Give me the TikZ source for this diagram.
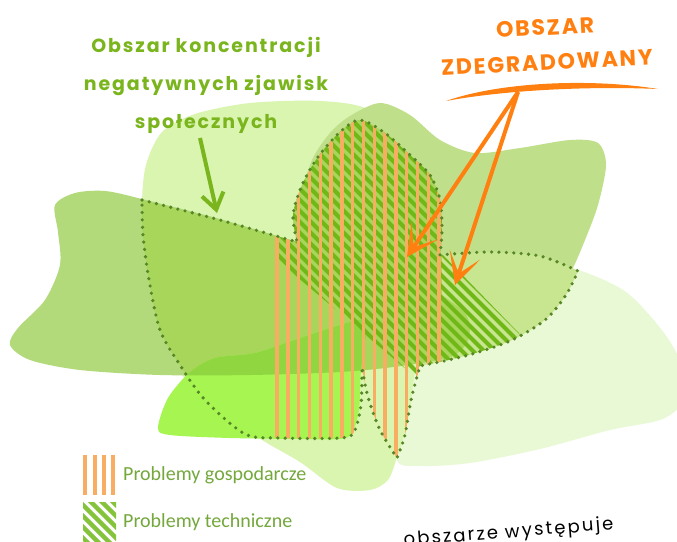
\documentclass[tikz,border=0pt]{standalone}
\usepackage{fontspec}
\usepackage{tikz}
\usetikzlibrary{arrows.meta,positioning}
\setmainfont{Carlito}
\newfontfamily\handfont[LetterSpace=10]{Poppins}
\newfontfamily\capsfont[LetterSpace=8]{Poppins}
\newfontfamily\notefont[LetterSpace=12]{Poppins}
\definecolor{PaleGreen}{RGB}{217,245,176}
\definecolor{MistGreen}{RGB}{234,249,213}
\definecolor{MidGreen}{RGB}{192,223,138}
\definecolor{LightMid}{RGB}{200,230,143}
\definecolor{BandGreen}{RGB}{178,217,122}
\definecolor{DeepBand}{RGB}{168,214,90}
\definecolor{BrightGreen}{RGB}{166,245,80}
\definecolor{MixGreen}{RGB}{143,214,64}
\definecolor{StripeGreen}{RGB}{112,184,24}
\definecolor{StripeOrange}{RGB}{249,173,99}
\definecolor{DotGreen}{RGB}{86,134,38}
\definecolor{InkGreen}{RGB}{122,181,29}
\definecolor{LegendGreen}{RGB}{116,168,60}
\definecolor{InkOrange}{RGB}{255,128,16}
\tikzset{
  orangestripe/.style={StripeOrange,line width=3.4pt},
  greenstripe/.style={StripeGreen,line width=3.9pt},
  legendstripe/.style={StripeGreen!85!white,line width=4.5pt},
  dotline/.style={DotGreen,line width=3.6pt,line cap=round,dash pattern=on 0pt off 7.4pt},
  handlabel/.style={InkGreen,font=\handfont\bfseries\fontsize{19}{38}\selectfont,align=center},
  capslabel/.style={InkOrange,font=\capsfont\bfseries\fontsize{22}{35}\selectfont,align=center},
  legendlabel/.style={LegendGreen,font=\fontsize{20}{24}\selectfont,anchor=west,inner sep=0pt},
  notelabel/.style={black,font=\notefont\fontsize{18}{20}\selectfont,anchor=base west,inner sep=0pt},
  pointer/.style={-{Stealth[length=32pt,width=32pt,inset=20pt]},InkOrange,line width=4pt},
  socpointer/.style={-{Straight Barb[length=16pt,width=22pt]},InkGreen,line width=4pt}
}
\newcommand\zdegpath{plot[smooth] coordinates {(142,200) (220,220) (297,242)}
  -- plot[smooth] coordinates {(297,242) (293,215) (302,185) (318,157) (340,132) (360,120) (385,133) (410,155) (430,175) (440,200) (442,230) (440,255)}
  -- plot[smooth] coordinates {(440,255) (490,252) (540,256) (578,271)}
  -- plot[smooth] coordinates {(578,271) (566,295) (545,320) (510,341) (465,356) (420,366)}
  -- plot[smooth] coordinates {(420,366) (411,400) (405,435) (397,458)}
  -- plot[smooth] coordinates {(397,458) (380,430) (368,397) (362,367)}
  -- plot[smooth] coordinates {(362,367) (361,405) (354,432) (340,438) (280,438) (245,434) (205,400) (180,365) (160,330) (149,280) (143,235) (142,200)} -- cycle}
\newcommand\bandpath{plot[smooth cycle] coordinates {(55,205) (75,193) (105,191) (142,199) (220,219) (297,242) (370,262) (430,288) (466,315) (468,340) (450,357) (400,366) (340,372) (250,375) (160,375) (80,370) (30,360) (10,345) (18,328) (45,300) (60,265) (58,232)}}
\newcommand\brightpath{plot[smooth cycle] coordinates {(158,428) (168,398) (190,372) (215,358) (255,353) (300,338) (340,325) (362,320) (366,335) (361,370) (359,410) (352,433) (340,439) (300,439) (230,438) (170,435)}}
\begin{document}
\begin{tikzpicture}[x=1pt,y=-1pt]
\clip (0,0) rectangle (677,541);
\fill[white] (0,0) rectangle (677,541);
\fill[MistGreen] plot[smooth cycle] coordinates {(397,460) (405,410) (412,370) (435,300) (480,262) (560,265) (620,288) (652,318) (675,350) (690,390) (665,418) (610,430) (540,449) (470,463) (420,466)};
\fill[PaleGreen] plot[smooth] coordinates {(396,460) (388,480) (370,490) (337,488) (300,462) (262,440) (200,400) (160,330) (145,260) (142,205) (146,165) (162,132) (195,114) (250,103) (320,101) (370,110) (420,150) (445,220) (432,300) (415,372) (410,410) (402,443) (396,460)} -- cycle;
\fill[MidGreen] plot[smooth cycle] coordinates {(350,116) (380,103) (410,115) (440,140) (475,153) (520,148) (570,140) (598,143) (606,165) (598,205) (585,240) (572,270) (555,300) (525,325) (470,345) (430,350) (310,240) (303,195) (312,160) (330,133)};
\fill[LightMid] plot[smooth] coordinates {(440,255) (490,252) (540,256) (578,271)}
  -- plot[smooth] coordinates {(578,271) (566,295) (545,320) (510,341) (465,356) (420,366)} -- (430,300) -- cycle;
\fill[BandGreen] \bandpath;
\begin{scope}
  \clip \zdegpath;
  \fill[DeepBand] \bandpath;
  \fill[DeepBand] (280,100) rectangle (442,300);
\end{scope}
\fill[BrightGreen] \brightpath;
\begin{scope}
  \clip \brightpath;
  \fill[MixGreen] \bandpath;
\end{scope}
\begin{scope}
  \clip \zdegpath;
  \clip (276,100) -- (276,259) -- (440,398) -- (545,360) -- (440,252) -- (470,100) -- cycle;
  \foreach \i in {0,...,36} \draw[greenstripe] (90+11*\i,100) -- ++(330,330);
\end{scope}
\begin{scope}
  \clip \zdegpath;
  \foreach \k in {0,...,15} \draw[orangestripe] (277+10.8*\k,100) -- ++(0,400);
\end{scope}
\draw[dotline] \zdegpath;
\node[handlabel] (socLabel) at (206,85) {Obszar koncentracji\\negatywnych zjawisk\\społecznych};
\coordinate (socTail) at (200,138);
\coordinate (socTip) at (217,213);
\draw[socpointer] (socTail) -- (socTip);
\node[capslabel,rotate=3] (degLabel) at (546,45) {OBSZAR\\ZDEGRADOWANY};
\fill[InkOrange] (446,101) .. controls (500,82) and (590,78) .. (658,89)
  .. controls (590,86) and (505,90) .. (446,101) -- cycle;
\coordinate (swoosh) at (518,92);
\coordinate (tipLeft) at (407,257);
\coordinate (tipRight) at (455,285);
\draw[pointer] (swoosh) -- (tipLeft);
\draw[pointer] (swoosh) -- (tipRight);
\foreach \x in {85,95,104,113} \draw[orangestripe] (\x,455) -- (\x,495);
\begin{scope}
  \clip (83,502) rectangle (116,541);
  \foreach \i in {0,...,8} \draw[legendstripe] (40+11*\i,495) -- ++(55,55);
\end{scope}
\node[legendlabel] (legEcon) at (123,475) {Problemy gospodarcze};
\node[legendlabel] (legTech) at (123,522) {Problemy techniczne};
\node[notelabel,rotate=4.5] (noteText) at (404,546) {obszarze występuje};
\end{tikzpicture}
\end{document}
